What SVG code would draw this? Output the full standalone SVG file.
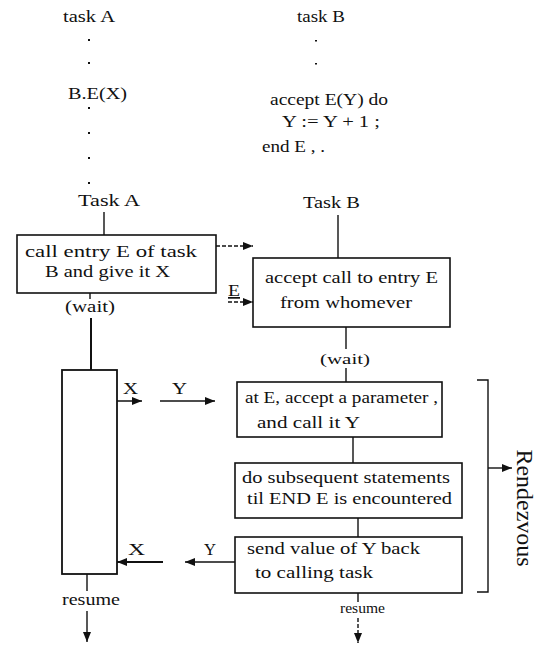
<svg xmlns="http://www.w3.org/2000/svg" width="543" height="645" viewBox="0 0 543 645" font-family="'Liberation Serif', 'Times New Roman', serif">
<style>
text{font-family:"Liberation Serif","Times New Roman",serif;fill:#111;}
.t{font-size:17px;}
.s{font-size:16px;}
.box{fill:#fff;stroke:#111;stroke-width:1.6;}
.ln{stroke:#111;stroke-width:1.4;fill:none;}
.dl{stroke:#111;stroke-width:1.4;fill:none;stroke-dasharray:4 2;}
.dot{fill:#111;}
</style>
<defs>
<marker id="ah" viewBox="0 0 10 8" refX="10" refY="4" markerWidth="10" markerHeight="8" markerUnits="userSpaceOnUse" orient="auto">
<path d="M0,0 L10,4 L0,8 Z" fill="#111"/>
</marker>
</defs>
<rect width="543" height="645" fill="#fff"/>

<g id="code-a">
<text class="s" x="63" y="22" textLength="52" lengthAdjust="spacingAndGlyphs">task A</text>
<rect class="dot" x="88" y="39" width="2" height="2"/>
<rect class="dot" x="88" y="62" width="2" height="2"/>
<text class="s" x="68" y="99" textLength="59" lengthAdjust="spacingAndGlyphs">B.E(X)</text>
<rect class="dot" x="88" y="107" width="2" height="2"/>
<rect class="dot" x="88" y="132" width="2" height="2"/>
<rect class="dot" x="88" y="157" width="2" height="2"/>
<rect class="dot" x="88" y="182" width="2" height="2"/>
</g>

<g id="code-b">
<text class="s" x="297" y="22" textLength="48" lengthAdjust="spacingAndGlyphs">task B</text>
<rect class="dot" x="315" y="40" width="2" height="1.5"/>
<rect class="dot" x="315" y="63" width="2" height="1.5"/>
<text class="s" x="270" y="105" textLength="118" lengthAdjust="spacingAndGlyphs">accept E(Y) do</text>
<text class="s" x="282" y="127" textLength="98" lengthAdjust="spacingAndGlyphs">Y := Y +  1 ;</text>
<text class="s" x="262" y="152" textLength="63" lengthAdjust="spacingAndGlyphs">end E , .</text>
</g>

<g id="connectors">
<line class="ln" x1="104" y1="212" x2="104" y2="235"/>
<line class="ln" x1="338" y1="215" x2="338" y2="258"/>
<line class="dl" x1="216" y1="246" x2="253" y2="246" marker-end="url(#ah)"/>
<line class="dl" x1="228" y1="302" x2="253" y2="302" marker-end="url(#ah)"/>
<line class="ln" x1="90" y1="293" x2="90" y2="299"/>
<line class="ln" x1="91" y1="318" x2="91" y2="370" style="stroke-width:2"/>
<line class="ln" x1="92" y1="401" x2="142" y2="401" marker-end="url(#ah)"/>
<line class="ln" x1="160" y1="401" x2="215" y2="401" marker-end="url(#ah)"/>
<line class="ln" x1="346" y1="327" x2="346" y2="349"/>
<line class="ln" x1="346" y1="368" x2="346" y2="382"/>
<line class="ln" x1="353" y1="437" x2="353" y2="463"/>
<line class="ln" x1="358" y1="518" x2="358" y2="537"/>
<line class="ln" x1="248" y1="562" x2="185" y2="562" marker-end="url(#ah)"/>
<line class="ln" x1="163" y1="562" x2="117" y2="562" marker-end="url(#ah)" style="stroke-width:1.8"/>
<line class="ln" x1="87" y1="574" x2="87" y2="591"/>
<line class="ln" x1="87" y1="611" x2="87" y2="642" marker-end="url(#ah)"/>
<line class="ln" x1="358" y1="593" x2="358" y2="602"/>
<line class="dl" x1="358" y1="618" x2="358" y2="643" marker-end="url(#ah)"/>
<path class="ln" d="M477,380 L488,380 L488,592 L477,592"/>
<line class="ln" x1="488" y1="468" x2="512" y2="468" marker-end="url(#ah)"/>
</g>

<g id="label-task-a"><text class="t" x="78" y="206" textLength="62" lengthAdjust="spacingAndGlyphs">Task A</text></g>
<g id="label-task-b"><text class="t" x="303" y="208" textLength="57" lengthAdjust="spacingAndGlyphs">Task B</text></g>

<g id="call-entry">
<rect class="box" x="17" y="235" width="199" height="58"/>
<text class="t" x="25" y="257" textLength="172" lengthAdjust="spacingAndGlyphs">call entry E of task</text>
<text class="t" x="45" y="277" textLength="125" lengthAdjust="spacingAndGlyphs">B and give it X</text>
</g>

<g id="accept-call">
<rect class="box" x="253" y="258" width="197" height="69"/>
<text class="t" x="265" y="283" textLength="173" lengthAdjust="spacingAndGlyphs">accept call to entry E</text>
<text class="t" x="280" y="308" textLength="132" lengthAdjust="spacingAndGlyphs">from whomever</text>
</g>

<g id="label-e"><text class="t" x="228" y="296" textLength="12" lengthAdjust="spacingAndGlyphs" text-decoration="underline">E</text></g>
<g id="label-wait-a"><text class="t" x="65" y="312" textLength="50" lengthAdjust="spacingAndGlyphs">(wait)</text></g>

<g id="task-a-wait">
<rect class="box" x="62" y="370" width="55" height="204" style="stroke-width:1.8"/>
</g>

<g id="labels-xy">
<text class="t" x="123" y="394" textLength="15" lengthAdjust="spacingAndGlyphs">X</text>
<text class="t" x="172" y="394" textLength="15" lengthAdjust="spacingAndGlyphs">Y</text>
<text class="t" x="128" y="555" textLength="17" lengthAdjust="spacingAndGlyphs">X</text>
<text class="t" x="204" y="555" textLength="12" lengthAdjust="spacingAndGlyphs">Y</text>
</g>

<g id="label-wait-b"><text class="s" x="320" y="364" textLength="50" lengthAdjust="spacingAndGlyphs" style="font-size:15px">(wait)</text></g>

<g id="accept-param">
<rect class="box" x="237" y="382" width="205" height="55"/>
<text class="t" x="245" y="403" textLength="193" lengthAdjust="spacingAndGlyphs">at E, accept a parameter ,</text>
<text class="t" x="257" y="428" textLength="103" lengthAdjust="spacingAndGlyphs">and call it Y</text>
</g>

<g id="subsequent">
<rect class="box" x="235" y="463" width="227" height="55"/>
<text class="t" x="242" y="483" textLength="208" lengthAdjust="spacingAndGlyphs">do subsequent statements</text>
<text class="t" x="247" y="504" textLength="205" lengthAdjust="spacingAndGlyphs">til END E is encountered</text>
</g>

<g id="send-back">
<rect class="box" x="235" y="537" width="227" height="56"/>
<text class="t" x="247" y="554" textLength="173" lengthAdjust="spacingAndGlyphs">send value of Y back</text>
<text class="t" x="255" y="578" textLength="118" lengthAdjust="spacingAndGlyphs">to calling task</text>
</g>

<g id="resume-a"><text class="s" x="62" y="605" textLength="58" lengthAdjust="spacingAndGlyphs">resume</text></g>
<g id="resume-b"><text class="s" x="340" y="613" textLength="45" lengthAdjust="spacingAndGlyphs" style="font-size:14px">resume</text></g>

<g id="rendezvous">
<text transform="translate(517,508) rotate(90)" x="0" y="0" text-anchor="middle" style="font-size:24px" textLength="117" lengthAdjust="spacingAndGlyphs">Rendezvous</text>
</g>
</svg>
